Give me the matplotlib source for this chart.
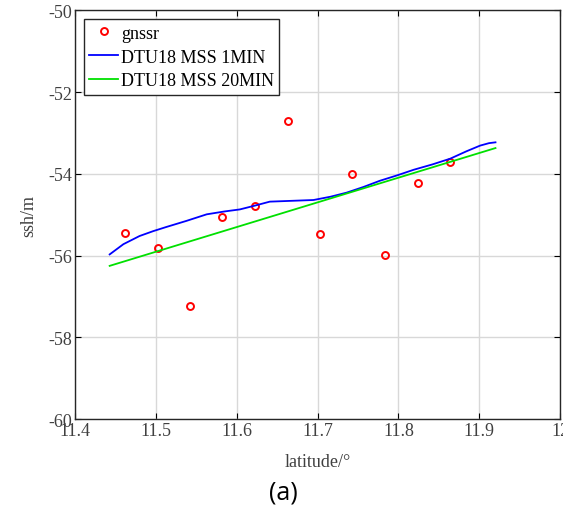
import matplotlib
matplotlib.use("Agg")
import matplotlib.pyplot as plt

plt.rcParams["font.family"] = "Liberation Serif"
plt.rcParams["axes.unicode_minus"] = False

# gnssr sea surface height retrievals
gnssr_lat = [11.462, 11.503, 11.542, 11.582, 11.623, 11.663, 11.703, 11.743, 11.784, 11.824, 11.864]
gnssr_ssh = [-55.45, -55.81, -57.23, -55.05, -54.78, -52.72, -55.46, -54.01, -55.98, -54.23, -53.70]

# DTU18 MSS sampled along track, 1 arc-minute grid
mss1_lat = [11.443, 11.460, 11.480, 11.497, 11.513, 11.538, 11.563, 11.585, 11.604, 11.622,
            11.641, 11.668, 11.695, 11.716, 11.736, 11.757, 11.777, 11.798, 11.819, 11.842,
            11.864, 11.884, 11.901, 11.912, 11.920]
mss1_ssh = [-55.97, -55.72, -55.52, -55.40, -55.30, -55.15, -54.99, -54.92, -54.87, -54.78,
            -54.68, -54.66, -54.64, -54.56, -54.46, -54.32, -54.17, -54.04, -53.90, -53.77,
            -53.63, -53.45, -53.31, -53.25, -53.23]

# DTU18 MSS, 20 arc-minute grid
mss20_lat = [11.443, 11.920]
mss20_ssh = [-56.25, -53.37]

fig = plt.figure(figsize=(5.63, 5.10), dpi=100)
ax = fig.add_axes([0.133, 0.176, 0.862, 0.802])

ax.plot(gnssr_lat, gnssr_ssh, "o", ls="none", mfc="none", mec="red", mew=1.4, ms=5, label="gnssr")
ax.plot(mss1_lat, mss1_ssh, color="blue", lw=1.3, label="DTU18 MSS 1MIN")
ax.plot(mss20_lat, mss20_ssh, color="#00e000", lw=1.3, label="DTU18 MSS 20MIN")

ax.set_xlim(11.4, 12.0)
ax.set_ylim(-60, -50)
ax.set_xticks([11.4, 11.5, 11.6, 11.7, 11.8, 11.9, 12.0])
ax.set_xticklabels(["11.4", "11.5", "11.6", "11.7", "11.8", "11.9", "12"])
ax.set_yticks([-60, -58, -56, -54, -52, -50])
ax.grid(True, color="#d8d8d8", lw=1.0)
ax.tick_params(direction="in", top=True, right=True, labelsize=13, length=4, pad=2,
               labelcolor="#404040")
for s in ax.spines.values():
    s.set_color("#262626")
    s.set_linewidth(1.0)

ax.set_xlabel("latitude/°", fontsize=13, color="#404040", labelpad=10)
ax.set_ylabel("ssh/m", fontsize=13, color="#404040", labelpad=8)

leg = ax.legend(loc="upper left", fontsize=13, frameon=True, fancybox=False,
                edgecolor="#262626", framealpha=1, borderpad=0.3, labelspacing=0.38,
                handlelength=1.6, handletextpad=0.15, borderaxespad=0.5)
leg.get_frame().set_linewidth(1.0)

fig.text(0.503, 0.033, "(a)", fontsize=18, family="Open Sans", ha="center", va="center")

fig.savefig("out.png", dpi=100)
